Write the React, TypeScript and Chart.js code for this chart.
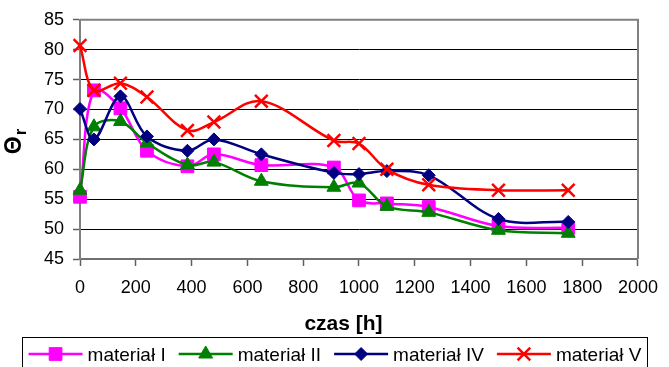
import React, { useEffect, useRef } from "react";
import { Chart, registerables } from "chart.js";
import { drawPoint } from "chart.js/helpers";

Chart.register(...registerables);

// ---- data ----
const hours = [0, 50, 145, 240, 385, 480, 650, 910, 1000, 1100, 1250, 1500, 1750];
const materialI = [55.4, 73.2, 70.2, 63.1, 60.5, 62.5, 60.7, 60.3, 54.8, 54.3, 53.7, 50.5, 50.2];
const materialII = [56.5, 67.1, 68.0, 64.4, 60.7, 61.2, 58.0, 57.0, 57.7, 53.8, 52.8, 49.8, 49.3];
const materialIV = [70.1, 65.0, 72.2, 65.5, 63.1, 65.0, 62.5, 59.4, 59.2, 59.7, 59.0, 51.7, 51.2];
const materialV = [80.7, 73.2, 74.4, 72.1, 66.5, 67.9, 71.4, 64.8, 64.3, 60.0, 57.4, 56.5, 56.5];
const seriesLabels = ["materiał I", "materiał II", "materiał IV", "materiał V"];
const yMin = 45;
const yMax = 85;
const yStep = 5;
const xMin = 0;
const xMax = 2000;
const xStep = 200;
const xTitle = "czas [h]";
const yTitleMain = "Θ";
const yTitleSub = "r";

const FONT = "'Liberation Sans', Arial, Helvetica, sans-serif";

const styles = [
  { color: "#FF00FF", pointStyle: "rect", radius: 9, pbw: 1, fill: true },
  { color: "#008000", pointStyle: "triangle", radius: 8, pbw: 1, fill: true },
  { color: "#000080", pointStyle: "rectRot", radius: 6.5, pbw: 1, fill: true },
  { color: "#FF0000", pointStyle: "crossRot", radius: 9, pbw: 2.5, fill: false },
];

const seriesValues = [materialI, materialII, materialIV, materialV];

const decorPlugin = {
  id: "decor",
  beforeDatasetsDraw(chart: any) {
    const { ctx, chartArea: a } = chart;
    ctx.save();
    ctx.strokeStyle = "#808080";
    ctx.lineWidth = 2;
    ctx.beginPath();
    ctx.moveTo(a.left, a.top);
    ctx.lineTo(a.right, a.top);
    ctx.lineTo(a.right, a.bottom);
    ctx.stroke();
    ctx.restore();
  },
  afterDraw(chart: any) {
    const { ctx } = chart;
    ctx.save();
    // x title
    ctx.fillStyle = "#000";
    ctx.font = `bold 21px ${FONT}`;
    ctx.textAlign = "center";
    ctx.textBaseline = "alphabetic";
    ctx.fillText(xTitle, 343.5, 330);

    // y title (rotated, with subscript)
    ctx.save();
    ctx.translate(21, 146);
    ctx.rotate(-Math.PI / 2);
    ctx.textAlign = "left";
    ctx.textBaseline = "alphabetic";
    ctx.font = `bold 23px ${FONT}`;
    const wMain = ctx.measureText(yTitleMain).width;
    ctx.font = `bold 17px ${FONT}`;
    const wSub = ctx.measureText(yTitleSub).width;
    const start = -(wMain + wSub) / 2 + 4;
    ctx.font = `bold 23px ${FONT}`;
    ctx.fillText(yTitleMain, start, 0);
    ctx.font = `bold 17px ${FONT}`;
    ctx.fillText(yTitleSub, start + wMain + 1, 5);
    ctx.restore();

    // legend box
    ctx.strokeStyle = "#000";
    ctx.lineWidth = 1;
    ctx.strokeRect(22.5, 337.5, 625, 40);

    ctx.font = `19px ${FONT}`;
    const lineLen = 54;
    const gapText = 5;
    const gapItem = 13;
    const widths = seriesLabels.map((l) => ctx.measureText(l).width);
    const total =
      widths.reduce((s, w) => s + w + lineLen + gapText, 0) + gapItem * (seriesLabels.length - 1);
    let x = 335 - total / 2;
    const y = 354;
    seriesLabels.forEach((label, i) => {
      const st = styles[i];
      ctx.strokeStyle = st.color;
      ctx.lineWidth = 2.5;
      ctx.beginPath();
      ctx.moveTo(x, y);
      ctx.lineTo(x + lineLen, y);
      ctx.stroke();
      ctx.fillStyle = st.color;
      ctx.strokeStyle = st.color;
      ctx.lineWidth = st.pbw;
      drawPoint(ctx, { pointStyle: st.pointStyle, radius: st.radius, rotation: 0, borderWidth: st.pbw } as any, x + lineLen / 2, y);
      ctx.fillStyle = "#000";
      ctx.textAlign = "left";
      ctx.textBaseline = "alphabetic";
      ctx.fillText(label, x + lineLen + gapText, 361);
      x += lineLen + gapText + widths[i] + gapItem;
    });
    ctx.restore();
  },
};

export default function App() {
  const ref = useRef<HTMLCanvasElement | null>(null);

  useEffect(() => {
    document.body.style.margin = "0";
    const canvas = ref.current;
    if (!canvas) return;
    Chart.defaults.font.family = FONT;
    Chart.defaults.color = "#000";

    const datasets = seriesValues.map((vals, i) => {
      const st = styles[i];
      return {
        label: seriesLabels[i],
        data: hours.map((h, j) => ({ x: h, y: vals[j] })),
        borderColor: st.color,
        backgroundColor: st.color,
        borderWidth: 2.5,
        tension: 0.35,
        pointStyle: st.pointStyle,
        pointRadius: st.radius,
        pointBorderWidth: st.pbw,
        pointBackgroundColor: st.fill ? st.color : "rgba(0,0,0,0)",
        pointBorderColor: st.color,
        order: seriesLabels.length - i,
        clip: false,
      };
    });

    const chart = new Chart(canvas, {
      type: "line",
      data: { datasets } as any,
      options: {
        animation: false,
        responsive: false,
        devicePixelRatio: 1,
        layout: { padding: { left: 0, right: 23, top: 19, bottom: 0 } },
        plugins: { legend: { display: false }, tooltip: { enabled: false }, title: { display: false } },
        scales: {
          x: {
            type: "linear",
            min: xMin,
            max: xMax,
            ticks: {
              stepSize: xStep,
              font: { size: 18 },
              color: "#000",
              padding: 11,
              maxRotation: 0,
              callback: (v: any) => String(v),
            },
            grid: { drawOnChartArea: false, drawTicks: true, tickLength: 7, tickColor: "#606060", tickWidth: 1.5 },
            border: { display: true, color: "#707070", width: 2 },
            afterFit: (s: any) => {
              s.height = 108;
            },
          },
          y: {
            min: yMin,
            max: yMax,
            ticks: { stepSize: yStep, font: { size: 18 }, color: "#000", padding: 9, callback: (v: any) => String(v) },
            grid: { color: "#000", lineWidth: 1, drawTicks: true, tickLength: 7, tickColor: "#606060", tickWidth: 1.5 },
            border: { display: true, color: "#808080", width: 2 },
            afterFit: (s: any) => {
              s.width = 80;
            },
          },
        },
      } as any,
      plugins: [decorPlugin],
    });
    return () => chart.destroy();
  }, []);

  return <canvas ref={ref} width={669} height={367} style={{ display: "block" }} />;
}
